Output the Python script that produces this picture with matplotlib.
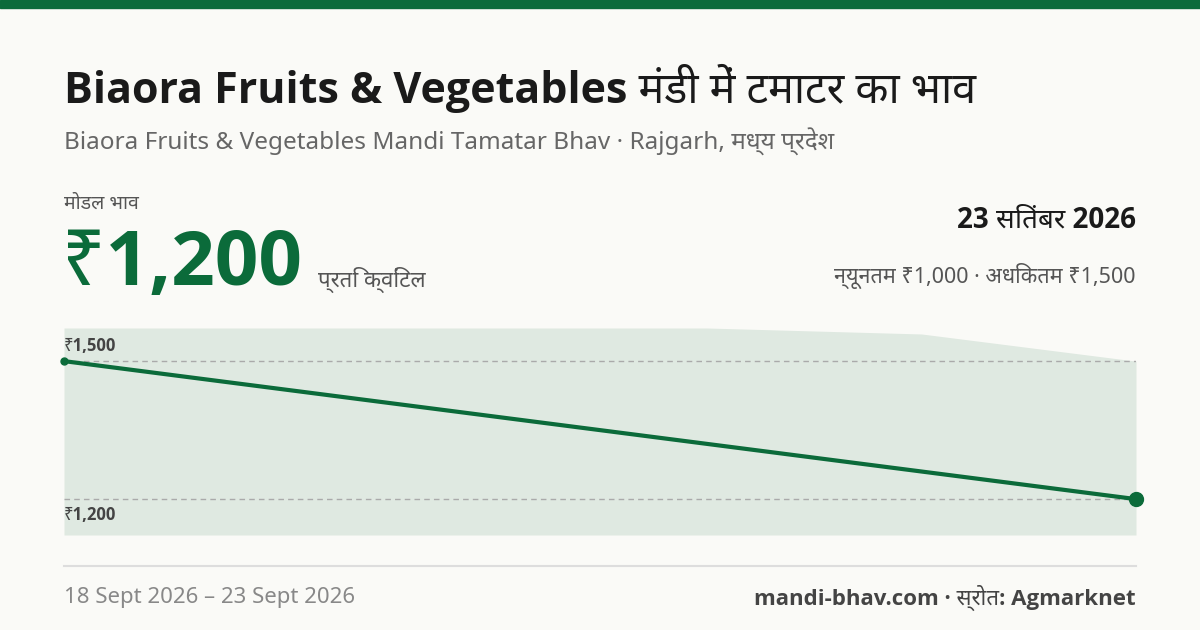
import matplotlib
matplotlib.use("Agg")
import matplotlib.pyplot as plt

plt.rcParams["font.family"] = ["Noto Sans", "DejaVu Sans"]
BOLD = ["Open Sans", "Noto Sans", "DejaVu Sans"]

# data
days = [0, 1, 2, 3, 4, 5]
date_labels = ["18 Sept 2026", "19 Sept 2026", "20 Sept 2026", "21 Sept 2026", "22 Sept 2026", "23 Sept 2026"]
band_upper = [1572, 1572, 1572, 1572, 1559, 1500]
band_lower = [1122, 1122, 1122, 1122, 1122, 1122]
price_days = [0, 5]
modal_price = [1500, 1200]
grid_levels = [1500, 1200]

GREEN = "#0b6b3a"
BG = "#fafaf7"

W, H = 1200, 630
fig = plt.figure(figsize=(12, 6.3), dpi=100, facecolor=BG)

def px(x, y):
    return x / W, 1 - y / H

fig.patches.append(plt.Rectangle((0, 1 - 8 / H), 1, 8 / H, transform=fig.transFigure,
                                 color=GREEN, zorder=5))

fig.text(*px(64, 88), "Biaora Fruits & Vegetables मंडी में टमाटर का भाव", fontsize=31,
         fontweight="bold", family=BOLD, color="#1a1a1a", va="center")
fig.text(*px(64, 142), "Biaora Fruits & Vegetables Mandi Tamatar Bhav · Rajgarh, मध्य प्रदेश",
         fontsize=17.5, color="#666666", va="center")
fig.text(*px(64, 204), "मोडल भाव", fontsize=14, color="#555555", va="center")
fig.text(*px(62, 265), "₹1,200", fontsize=55, fontweight="bold", family=BOLD, color=GREEN,
         va="center")
fig.text(*px(318, 280), "प्रति क्विंटल", fontsize=16, color="#555555", va="center")
fig.text(*px(1136, 220), "23 सितंबर 2026", fontsize=20, fontweight="bold", family=BOLD,
         color="#1a1a1a", va="center", ha="right")
fig.text(*px(1136, 276), "न्यूनतम ₹1,000 · अधिकतम ₹1,500", fontsize=15.5, color="#555555",
         va="center", ha="right")

ax = fig.add_axes([64 / W, (H - 535) / H, 1072 / W, 207 / H])
ax.set_facecolor(BG)
ax.fill_between(days, band_lower, band_upper, color="#dfe9e1", lw=0)
for lvl in grid_levels:
    ax.axhline(lvl, color="#aaaaaa", lw=1, ls=(0, (4, 3)))
ax.plot(price_days, modal_price, color=GREEN, lw=3, solid_capstyle="round")
ax.plot(price_days[0], modal_price[0], "o", color=GREEN, ms=5, clip_on=False)
ax.plot(price_days[-1], modal_price[-1], "o", color=GREEN, ms=10, clip_on=False)
ax.text(0, grid_levels[0] + 14, "₹1,500", fontsize=12, fontweight="bold", family=BOLD,
        color="#444444", va="bottom", ha="left")
ax.text(0, grid_levels[1] - 14, "₹1,200", fontsize=12, fontweight="bold", family=BOLD,
        color="#444444", va="top", ha="left")
ax.set_xlim(days[0], days[-1])
ax.set_ylim(1122, 1572)
ax.axis("off")

fig.add_artist(plt.Line2D([64 / W, 1136 / W], [1 - 566 / H] * 2, color="#dddddd", lw=1.5))
fig.text(*px(64, 598), f"{date_labels[0]} – {date_labels[-1]}", fontsize=16, color="#888888",
         va="center")
fig.text(*px(1136, 598), "mandi-bhav.com · स्रोत: Agmarknet", fontsize=16, fontweight="bold",
         family=BOLD, color="#444444", va="center", ha="right")

fig.savefig("out.png", dpi=100, facecolor=BG)
